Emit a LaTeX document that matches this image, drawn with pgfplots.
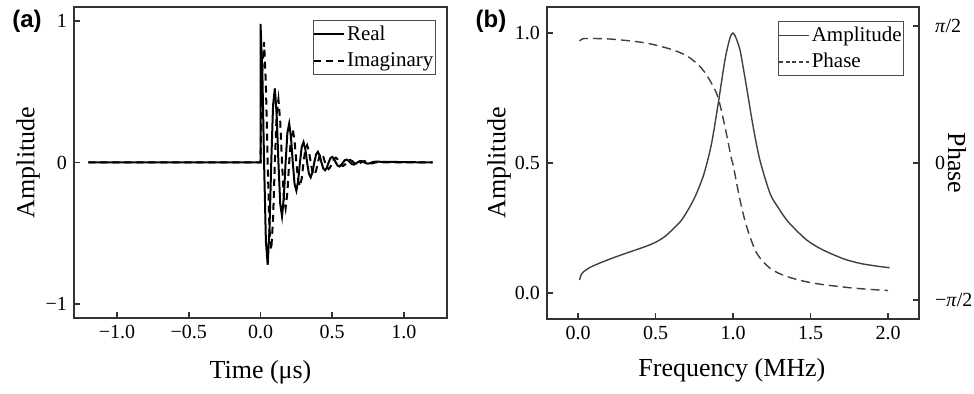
\documentclass[border=0pt]{standalone}
\usepackage{fontspec}
\setmainfont{Liberation Serif}
\newfontfamily\labelfont{Liberation Sans}
\usepackage{pgfplots}
\pgfplotsset{compat=1.18}
\pgfplotstableread{
t re im
-1.2 0 0
0 0 0
0 0.98 0
0.0125 0.6523 0.6523
0.025 0 0.8510
0.0375 -0.5551 0.5551
0.05 -0.7242 0
0.0625 -0.4724 -0.4724
0.075 0 -0.6163
0.0875 0.4021 -0.4021
0.1 0.5245 0
0.1125 0.3422 0.3422
0.125 0 0.4464
0.1375 -0.2912 0.2912
0.15 -0.3799 0
0.1625 -0.2478 -0.2478
0.175 0 -0.3233
0.1875 0.2109 -0.2109
0.2 0.2751 0
0.2125 0.1795 0.1795
0.225 0 0.2341
0.2375 -0.1527 0.1527
0.25 -0.1992 0
0.2625 -0.1300 -0.1300
0.275 0 -0.1695
0.2875 0.1106 -0.1106
0.3 0.1443 0
0.3125 0.0941 0.0941
0.325 0 0.1228
0.3375 -0.0801 0.0801
0.35 -0.1045 0
0.3625 -0.0682 -0.0682
0.375 0 -0.0889
0.3875 0.0580 -0.0580
0.4 0.0757 0
0.4125 0.0494 0.0494
0.425 0 0.0644
0.4375 -0.0420 0.0420
0.45 -0.0548 0
0.4625 -0.0358 -0.0358
0.475 0 -0.0466
0.4875 0.0304 -0.0304
0.5 0.0397 0
0.5125 0.0259 0.0259
0.525 0 0.0338
0.5375 -0.0221 0.0221
0.55 -0.0288 0
0.5625 -0.0188 -0.0188
0.575 0 -0.0245
0.5875 0.0160 -0.0160
0.6 0.0208 0
0.6125 0.0136 0.0136
0.625 0 0.0177
0.6375 -0.0115 0.0115
0.65 -0.0151 0
0.6625 -0.0098 -0.0098
0.675 0 -0.0128
0.6875 0.0083 -0.0083
0.7 0.0109 0
0.7125 0.0071 0.0071
0.725 0 0.0093
0.7375 -0.0061 0.0061
0.75 -0.0079 0
0.7625 -0.0052 -0.0052
0.775 0 -0.0067
0.7875 0.0044 -0.0044
0.8 0.0057 0
1.2 0 0
}\signal
\pgfplotstableread{
f a
0.01 0.05
0.025 0.075
0.067 0.095
0.12 0.11
0.217 0.133
0.32 0.155
0.432 0.178
0.5 0.195
0.56 0.217
0.62 0.25
0.669 0.281
0.72 0.33
0.755 0.37
0.79 0.42
0.82 0.473
0.862 0.576
0.905 0.73
0.948 0.896
0.98 0.98
1.0 1.0
1.02 0.98
1.045 0.935
1.065 0.87
1.088 0.79
1.13 0.64
1.174 0.51
1.239 0.383
1.29 0.33
1.346 0.281
1.41 0.24
1.475 0.204
1.55 0.175
1.626 0.153
1.72 0.13
1.819 0.114
1.92 0.104
2.01 0.097
}\amp
\pgfplotstableread{
f p
0.01 0.892
0.03 0.907
0.067 0.910
0.217 0.905
0.432 0.878
0.605 0.829
0.712 0.776
0.798 0.691
0.862 0.581
0.905 0.473
0.948 0.265
0.99 0.031
1.0 -0.010
1.045 -0.269
1.088 -0.465
1.153 -0.659
1.239 -0.769
1.346 -0.829
1.518 -0.878
1.776 -0.914
2.0 -0.932
}\phase
\begin{document}
\begin{tikzpicture}
\path[use as bounding box] (0pt,0pt) rectangle (487pt,197pt);
\pgfplotsset{
  myaxis/.style={
    scale only axis,
    axis line style={black!80, line width=0.8pt},
    tick align=inside, major tick length=3pt,
    tick style={black!80, line width=0.8pt},
    ticklabel style={font=\fontsize{10}{12}\selectfont},
    label style={font=\fontsize{13}{15}\selectfont},
    legend cell align=left,
    legend style={draw=black!70, line width=0.5pt,
      font=\fontsize{10.5}{12}\selectfont,
      inner xsep=0pt, inner ysep=1.5pt, row sep=2.5pt,
      nodes={inner xsep=1pt, inner ysep=1pt}},
    legend image code/.code={\draw[##1] (0pt,0pt) -- (15pt,0pt);},
  }
}
% (a)
\begin{axis}[myaxis, at={(37pt,38pt)}, anchor=south west,
  width=186.5pt, height=155.5pt,
  xtick pos=bottom, ytick pos=left,
  xmin=-1.3, xmax=1.3, ymin=-1.1, ymax=1.1,
  xtick={-1,-0.5,0,0.5,1}, xticklabels={−1.0,−0.5,0.0,0.5,1.0},
  ytick={-1,0,1}, yticklabels={−1,0,1},
  xlabel={Time (μs)}, ylabel={Amplitude},
  xlabel style={at={(rel axis cs:0.5,-0.174)}, anchor=center},
  ylabel style={at={(rel axis cs:-0.123,0.5)}, anchor=center},
  legend style={at={(rel axis cs:0.97,0.958)}, anchor=north east}]
\addplot[black, line width=1pt] table[x=t, y=re] {\signal};
\addlegendentry{Real}
\addplot[black, line width=1pt, dash pattern=on 3.5pt off 2.5pt] table[x=t, y=im] {\signal};
\addlegendentry{Imaginary}
\end{axis}
\node[font=\labelfont\bfseries\fontsize{12}{14}\selectfont] at (13.5pt,186.5pt) {(a)};
% (b)
\begin{axis}[myaxis, at={(273.5pt,37.5pt)}, anchor=south west,
  width=186pt, height=156pt,
  xtick pos=bottom, ytick pos=left,
  xmin=-0.2, xmax=2.2, ymin=-0.1, ymax=1.1,
  xtick={0,0.5,1,1.5,2}, xticklabels={0.0,0.5,1.0,1.5,2.0},
  ytick={0,0.5,1}, yticklabels={0.0,0.5,1.0},
  xlabel={Frequency (MHz)}, ylabel={Amplitude},
  xlabel style={at={(rel axis cs:0.497,-0.163)}, anchor=center},
  ylabel style={at={(rel axis cs:-0.129,0.5)}, anchor=center},
  legend style={at={(rel axis cs:0.96,0.955)}, anchor=north east}]
\addplot[black!75, line width=0.7pt, smooth] table[x=f, y=a] {\amp};
\addlegendentry{Amplitude}
\addlegendimage{black!75, line width=0.7pt, dash pattern=on 2pt off 1.3pt}
\addlegendentry{Phase}
\end{axis}
\begin{axis}[myaxis, at={(273.5pt,37.5pt)}, anchor=south west,
  width=186pt, height=156pt,
  axis x line=none, axis y line*=right,
  xmin=-0.2, xmax=2.2, ymin=-1.14, ymax=1.14,
  ytick={-1,0,1}, yticklabels={−\textit{π}/2,0,\textit{π}/2},
  yticklabel style={anchor=west, xshift=4.5pt},
  ylabel={Phase},
  ylabel style={at={(rel axis cs:1.102,0.5)}, anchor=center, rotate=180}]
\addplot[black!75, line width=0.7pt, smooth, dash pattern=on 4.5pt off 2.5pt] table[x=f, y=p] {\phase};
\end{axis}
\node[font=\labelfont\bfseries\fontsize{12}{14}\selectfont] at (245.5pt,186.5pt) {(b)};
\end{tikzpicture}
\end{document}
